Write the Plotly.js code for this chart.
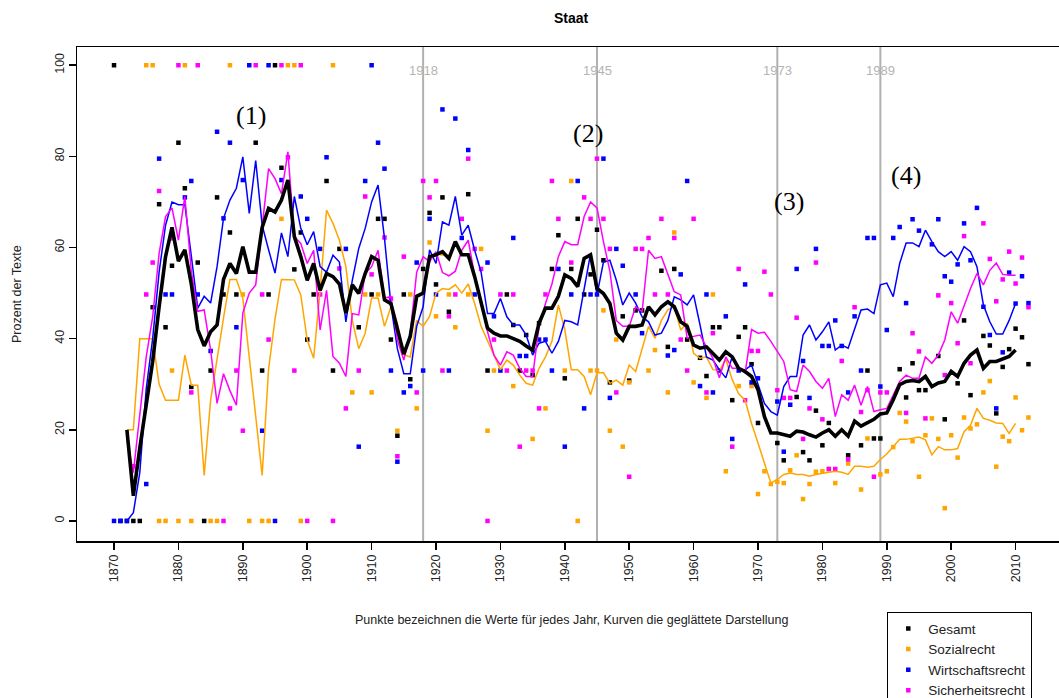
<!DOCTYPE html>
<html>
<head>
<meta charset="utf-8">
<script src="https://cdn.plot.ly/plotly-3.0.1.min.js"></script>
<style>
html,body{margin:0;padding:0;overflow:hidden;background:#fff;}
#chart{width:1080px;height:698px;}
</style>
</head>
<body>
<div id="chart"></div>
<script>
// ---------- smoothed curves, one value per year from 1872 to 2010 ----------
const lineStartYear = 1872;
const gesamtLine = [
 20,5.5,16,26,35,47,58,64.4,
 57,59.5,52,42,38.4,41.5,43,53,56.5,54.3,
 60.2,54.6,54.6,64.4,68.6,67.8,70.4,74.8,62.4,58,
 52.8,56.5,50.6,54.3,53.6,52,45.6,51.8,49.9,54.3,
 58,57.2,48.5,47.7,41.9,36.6,40.5,49.3,50,58,
 58.4,59.1,57.6,61.3,58.4,58.4,53.6,47.7,42.3,41.2,
 40.6,40.6,39.9,39.4,38.4,37.5,43.4,46.7,46.7,49.3,
 54,53.2,51.4,57.6,58.4,51,49.9,47.7,41.2,39.7,
 42.7,42.7,43,47,45.2,47,48.1,47,43.7,42.7,
 38.6,37.9,38.2,36.8,35.3,37.1,36,33.5,32.8,31.7,
 28.8,22.9,19.3,19.3,18.9,18.6,19.7,19.5,18.9,18.4,
 19.3,20,18.6,20,18.6,21.9,20.8,21.5,22.3,23.5,
 23.7,26.6,29.9,30.6,30.8,30.6,31.7,29.5,30.3,30.6,
 32.8,31.7,34.6,36.4,37.5,33.5,35,35,35.5,36.1,
 37.5
];
const sozialLine = [
 20,20,40,40,40,30,26.5,26.5,
 26.5,36.4,29.8,29.8,10,26.5,35.7,44.5,53,53,
 48.9,36.4,22.5,10,33.3,44.3,53,53,52.9,49.6,
 39.7,35.7,50.6,68.2,65.3,61.6,55.8,44,37.8,41.2,
 48.9,48.9,42.7,47,43.4,36.5,36,44,42.7,44.9,
 50,51,50.8,51.8,50,52,47.7,42.7,39.4,36.4,
 33.2,35.3,34.2,32,30.2,29.8,33.5,36,39.4,47.4,
 42,33.2,33.2,31.7,27.7,32.5,32.5,30.2,30.9,29.8,
 34.2,32.8,37.5,42.7,40.1,44,46.3,47,41.9,43.4,
 36.8,35.7,36,33.2,33,35.5,31,27.9,26.5,21.4,
 17.1,12.7,8.3,9.1,10.2,10.5,10.2,10.2,9.8,10.2,
 10.5,10.7,10.9,10.7,10.2,12,12,11.8,12,13.5,
 14.7,16.3,17.9,17.9,18.1,18.4,17.8,14.5,16.3,15.6,
 15.6,15.9,19.6,21,24.7,22.5,22.1,21.5,21.4,19.2,
 21.4
];
const wirtschaftLine = [
 0,1.8,10.6,29,40,54.6,64.9,70,
 69.4,69.4,58.2,46.7,49.3,47.8,55.8,66.4,70.4,73,
 79.9,67.5,79.1,64.9,59.5,54.4,63.2,58,71.2,64.2,
 60.6,63.5,55.8,54.6,58.3,56.8,43.7,52.8,59.8,64.2,
 70,73.7,62,47.4,37.8,32.3,32.3,42.7,47,59.5,
 56.5,65.6,64.9,71.2,62.7,64.9,59.4,54.6,45.5,45.5,
 48.8,44.8,43,43,40.8,36.4,39,39.4,36.8,39.4,
 44,43.7,43,51,58.7,49.6,56.8,57.2,52.8,47.4,
 50,47.8,44.8,43.7,40.8,41.2,44,49.2,48.5,47.4,
 49.6,43,36,35.3,33.2,31.4,36.1,33.2,33.2,34.2,
 30.2,25.8,24,23.2,29.5,31.7,31.7,40.8,43,39.7,
 41.5,43.7,37.5,38.6,37.9,41.9,46.3,46.5,45.5,51.8,
 52.2,49.2,56.5,61,61,60.2,63.8,61.3,59.1,58,
 59.1,57.2,60.2,59.1,55.8,47.4,43.7,41,41,44,
 47.7
];
const sicherheitLine = [
 18,10.6,23.3,36,44.8,58.7,66.8,68.7,
 61.6,71.2,54.8,46,46.3,37.5,25.8,32.3,28.6,25.4,
 45.6,50,51.8,64.9,77.3,75.1,71.8,81,62.4,60.9,
 56.5,59.4,41.9,50.6,36.1,34.6,31.7,45.5,45.2,54.3,
 55.8,59.4,48.9,49.2,39.7,35.3,41.2,54.6,58,56.9,
 59.1,54.5,53.8,54.8,59.4,61.6,53.9,48.1,41.5,36.4,
 34.2,37.1,36.4,33.5,31.7,31.7,42.7,47.7,52,58,
 61.3,60.6,60.6,66.8,70,68.7,61.3,54.8,44,42.7,
 42.7,47,45.9,59.4,57.6,58,54.3,50.3,49.6,40.1,
 40.5,40.8,38.2,35.7,31.4,36,33.5,33.5,32.5,42,
 41.2,41.4,39.4,37.1,35,28.8,28.4,34.2,32.8,30.6,
 29.1,31.3,22.9,27.7,26.5,29.8,25.4,29.5,24,24.4,
 24.7,27.6,30.6,32,31.3,31.3,36,34.6,36.4,39.7,
 45.9,43.4,47.4,51,54.3,51.8,55,56.6,54.1,53.9,
 53.9
];

// ---------- yearly points ----------
const gesamtPtYears = [1870,1871,1872,1873,1874,1876,1877,1878,1879,1880,1881,1882,1883,1884,1885,1886,1887,1888,1889,1892,1893,1894,1895,1896,1898,1899,1900,1901,1903,1904,1905,1908,1910,1911,1912,1913,1914,1915,1916,1918,1919,1920,1921,1922,1925,1928,1931,1932,1933,1934,1935,1936,1938,1939,1940,1941,1942,1943,1944,1945,1946,1947,1949,1950,1951,1952,1955,1956,1957,1959,1961,1962,1963,1964,1966,1967,1968,1969,1970,1973,1974,1976,1977,1978,1979,1980,1981,1984,1986,1987,1988,1989,1992,1993,1994,1995,1996,1998,1999,2001,2002,2003,2005,2006,2007,2008,2009,2010,2011,2012];
const gesamtPtVals  = [100,0,0,0,0,46.9,69.5,42.5,56,83,73,29.4,56.7,0,33,71,49.7,63.3,49.7,83,33,49.7,100,77.5,55.2,63.3,39.8,49.7,74.6,33,59.7,42.5,49.7,66.3,66.3,39.8,18.7,49.7,31.1,55.3,67.6,51.9,71,45.9,71.7,33,49.7,43,33,40.8,32,43.4,55.3,62.7,31.3,55.3,66.3,49.7,54.1,63.9,57.2,30.4,44.9,30.8,46.2,46.2,54.9,38.2,55.3,39.8,35.8,31.8,42.5,42.5,26.5,40.4,42.5,34.4,21.5,17.1,13.3,27.2,15.1,13.3,24.2,16.6,21.5,14.4,16.6,33,18.1,18.1,33.3,27.1,34.6,28.7,28.7,36.2,22.3,30.2,44,27.6,40.6,38.5,23.6,33.8,37.7,42.2,40.3,34.4];

const sozialPtYears = [1875,1876,1877,1878,1879,1880,1881,1882,1885,1886,1888,1890,1891,1893,1894,1896,1897,1898,1899,1904,1907,1909,1910,1911,1914,1916,1917,1919,1920,1921,1922,1923,1925,1927,1928,1929,1932,1935,1937,1940,1941,1942,1944,1945,1946,1947,1948,1949,1950,1953,1954,1956,1957,1960,1962,1963,1965,1967,1969,1970,1971,1972,1973,1974,1975,1976,1977,1978,1979,1980,1981,1982,1984,1986,1987,1989,1990,1991,1992,1993,1994,1995,1996,1997,1998,1999,2000,2001,2002,2003,2004,2005,2006,2007,2008,2009,2010,2011,2012];
const sozialPtVals  = [100,100,0,0,33,0,100,0,0,0,100,49.7,0,0,0,66.3,100,100,0,100,28.2,49.7,28.2,49.7,19.8,49.7,24.7,61.1,44.9,58.7,49.7,42.5,49.7,59.7,19.8,33,29.6,18,24.7,33,74.6,0,33,33,46.2,19.8,39.8,16.3,30.4,33,37.5,28.2,63.3,30.4,27,49.7,10.9,29.6,29.6,5.9,10.9,8.1,8.6,8.3,11.1,14.4,4.8,8.1,10.8,10.9,11.4,8.3,12.6,6.9,18.1,10.2,10.9,16.2,23.7,21.8,17.5,9.7,18.8,22.5,18,2.8,18.8,13.9,22.7,20.3,21.2,28.2,30.7,11.9,18.5,17.5,27.1,19.9,22.7];

const wirtschaftPtYears = [1870,1871,1872,1875,1877,1878,1879,1881,1882,1883,1885,1886,1887,1888,1889,1890,1891,1893,1894,1895,1896,1899,1900,1902,1903,1906,1908,1909,1910,1911,1912,1913,1914,1915,1916,1917,1918,1919,1920,1921,1922,1923,1924,1925,1926,1928,1929,1930,1932,1933,1934,1936,1937,1938,1939,1940,1941,1942,1943,1944,1945,1946,1947,1948,1949,1951,1952,1956,1957,1958,1959,1961,1962,1963,1964,1965,1966,1967,1968,1969,1970,1973,1974,1975,1976,1977,1978,1979,1980,1981,1982,1983,1984,1985,1986,1987,1988,1989,1990,1991,1992,1993,1994,1995,1997,1998,1999,2000,2001,2002,2003,2004,2005,2006,2007,2008,2009,2010,2011,2012];
const wirtschaftPtVals  = [0,0,0,8.1,79.5,49.7,49.7,71,74.6,49.7,37.3,85.4,66.4,83,42.5,74.8,100,19.8,100,0,74.8,71.2,66.3,59.7,79.8,59.7,16.3,74.6,100,83,77.3,33,13,28.2,29.6,56.7,33,66.3,49.7,90.3,33,88.3,62.1,81.4,49.7,56.7,44.9,33,62.1,36.2,36.2,39.8,39.8,33,55.3,16.3,49.7,74.6,24.7,49.7,49.7,79.5,27,59.7,56,49.7,41.2,36.3,37.5,54.1,74.6,29.6,49.7,28.2,33,44.9,18,33,51.9,30.4,31.3,26.2,15.2,25.5,55.3,35.1,27,59.7,38.4,38.4,44,38.4,28.2,44.9,33,62.1,62.1,29.5,41.9,62.1,64.5,47.8,66.2,63.7,60.7,66.2,53.7,52.5,56.3,65.3,57.2,68.7,47,40.8,24.7,37,54.5,47.7,53.7,47.8];

const sicherheitPtYears = [1873,1875,1876,1877,1879,1880,1882,1883,1887,1888,1889,1890,1892,1893,1894,1896,1897,1898,1899,1900,1902,1904,1905,1906,1908,1909,1910,1912,1913,1914,1915,1917,1918,1919,1920,1921,1922,1923,1924,1925,1926,1927,1928,1929,1930,1931,1932,1933,1934,1935,1936,1937,1938,1939,1941,1943,1944,1945,1946,1947,1948,1950,1951,1952,1953,1954,1955,1956,1957,1958,1959,1960,1962,1963,1966,1967,1968,1969,1970,1971,1972,1973,1974,1975,1976,1977,1978,1979,1980,1981,1982,1983,1984,1985,1986,1987,1988,1989,1990,1993,1994,1995,1996,1998,1999,2000,2001,2002,2003,2005,2006,2007,2008,2009,2010,2011,2012];
const sicherheitPtVals  = [12,49.7,56.7,72.4,62,100,28.2,100,0,24.7,33,19.8,100,49.7,39.8,100,79.8,33,100,0,49.7,0,55.4,24.7,33,71.2,54.1,62.2,48.8,14.2,58,28.2,74.6,71,74.6,33,44.9,49.7,66.3,79.5,59.7,55.3,0,39.8,49.7,33,49.7,16.3,33,33,24.7,49.7,74.6,66.3,56.7,71,66.3,79.5,66.3,59.7,28.2,9.7,59.7,59.7,62.1,49.7,66.3,49.7,62.1,39.8,33,66.3,28.2,41.2,16.3,55.3,26.5,37.3,37.3,54.7,49.7,28.7,27,27,44.6,18,24.7,56.7,22.3,11.4,11.4,35.1,13.5,46.9,23.9,28.7,9.7,28.2,28.2,23.7,41.2,37.2,22.5,49.5,32,47.8,39,62.5,34.6,65.3,57.5,48.2,53,59.1,52.1,57.8,46.9];

// ---------- labels ----------
const seriesNames = ["Gesamt","Sozialrecht","Wirtschaftsrecht","Sicherheitsrecht"];
const seriesColors = ["#000000","#FFA500","#0000FF","#FF00FF"];
const eventYears = [1918,1945,1973,1989];
const eventLabels = ["1918","1945","1973","1989"];
const phaseLabels = ["(1)","(2)","(3)","(4)"];
const phaseX = [1891.3,1943.6,1974.8,1993.0];
const phaseY = [89,85.1,70,75.7];
const xTicks = [1870,1880,1890,1900,1910,1920,1930,1940,1950,1960,1970,1980,1990,2000,2010];
const yTicks = [0,20,40,60,80,100];

const lineYears = gesamtLine.map((_, i) => lineStartYear + i);
const lines = [gesamtLine, sozialLine, wirtschaftLine, sicherheitLine];
const ptYears = [gesamtPtYears, sozialPtYears, wirtschaftPtYears, sicherheitPtYears];
const ptVals = [gesamtPtVals, sozialPtVals, wirtschaftPtVals, sicherheitPtVals];

const traces = [];
for (let i = 0; i < 4; i++) {
  traces.push({
    x: ptYears[i], y: ptVals[i], type: "scatter", mode: "markers",
    name: seriesNames[i], showlegend: true,
    marker: {symbol: "square", size: 4.5, color: seriesColors[i]},
    cliponaxis: false, hoverinfo: "x+y+name"
  });
}
for (const i of [1, 2, 3, 0]) {
  traces.push({
    x: lineYears, y: lines[i], type: "scatter", mode: "lines",
    name: seriesNames[i] + " (geglättet)", showlegend: false,
    line: {color: seriesColors[i], width: i === 0 ? 3.6 : 1.5}
  });
}

const font = "Liberation Sans, Arial, Helvetica, sans-serif";
const shapes = eventYears.map(yr => ({
  type: "line", xref: "x", yref: "paper", x0: yr, x1: yr, y0: 0, y1: 1,
  line: {color: "#b0b0b0", width: 2}, layer: "below"
}));
const annotations = [];
eventYears.forEach((yr, i) => annotations.push({
  x: yr, y: 98.9, xref: "x", yref: "y", text: eventLabels[i], showarrow: false,
  font: {family: font, size: 13, color: "#b4b4b4"}
}));
phaseLabels.forEach((t, i) => annotations.push({
  x: phaseX[i], y: phaseY[i], xref: "x", yref: "y", text: t, showarrow: false,
  font: {family: "Liberation Serif, Times New Roman, serif", size: 26, color: "#000"}
}));
annotations.push({
  x: 1941.1, y: 0, xref: "x", yref: "paper", yanchor: "middle", yshift: -79,
  text: "Punkte bezeichnen die Werte für jedes Jahr, Kurven die geglättete Darstellung",
  showarrow: false, font: {family: font, size: 12.5, color: "#222"}
});
annotations.push({
  x: 0, y: 0.5, xref: "paper", yref: "paper", xanchor: "center", yanchor: "middle", xshift: -60, textangle: -90,
  text: "Prozent der Texte", showarrow: false, font: {family: font, size: 12.5, color: "#222"}
});
annotations.push({
  x: 1941.1, y: 1, xref: "x", yref: "paper", yanchor: "middle", yshift: 29, text: "<b>Staat</b>",
  showarrow: false, font: {family: font, size: 14, color: "#000"}
});

const layout = {
  width: 1080, height: 698,
  margin: {l: 77, r: 10, t: 47, b: 157, autoexpand: false},
  paper_bgcolor: "#fff", plot_bgcolor: "#fff",
  font: {family: font, size: 12, color: "#222"},
  showlegend: true,
  legend: {
    x: 0.8157, y: -0.1437, xanchor: "left", yanchor: "top",
    bgcolor: "#fff", bordercolor: "#000", borderwidth: 1.3,
    font: {family: font, size: 13.5, color: "#222"},
    itemwidth: 30, tracegroupgap: 0
  },
  xaxis: {
    range: [1864.25, 2018.45], tickvals: xTicks, ticktext: xTicks.map(String),
    tickangle: -90, ticks: "outside", ticklen: 7, tickwidth: 1.5, tickcolor: "#000",
    showline: true, linecolor: "#000", linewidth: 1.5, mirror: true,
    showgrid: false, zeroline: false, tickfont: {family: font, size: 12.5, color: "#222"}
  },
  yaxis: {
    range: [-4.4, 104.0], tickvals: yTicks, ticktext: yTicks.map(String),
    tickangle: -90, ticks: "outside", ticklen: 7, tickwidth: 1.5, tickcolor: "#000",
    showline: true, linecolor: "#000", linewidth: 1.5, mirror: true,
    showgrid: false, zeroline: false, tickfont: {family: font, size: 12.5, color: "#222"}
  },
  shapes: shapes,
  annotations: annotations
};

Plotly.newPlot("chart", traces, layout, {displayModeBar: false, staticPlot: true});
</script>
</body>
</html>
